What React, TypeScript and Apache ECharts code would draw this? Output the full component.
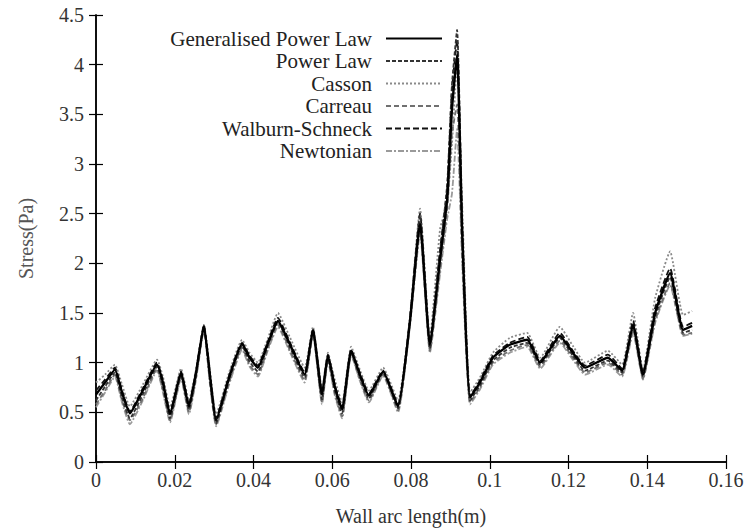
import React, { useEffect, useRef } from "react";
import * as echarts from "echarts";

const xs = [
  0, 0.0023, 0.0048, 0.0066, 0.0086, 0.0119, 0.0155, 0.017, 0.0188, 0.0216,
  0.0236, 0.0254, 0.0274, 0.029, 0.0305, 0.0338, 0.0371, 0.039, 0.0411, 0.0437,
  0.0462, 0.0493, 0.053, 0.0551, 0.0574, 0.0589, 0.0607, 0.0625, 0.0648, 0.067,
  0.0693, 0.0729, 0.0767, 0.0797, 0.0823, 0.0848, 0.0874, 0.0892, 0.0904, 0.0917,
  0.093, 0.095, 0.0975, 0.1008, 0.1051, 0.1095, 0.1128, 0.1178, 0.1211, 0.1242,
  0.13, 0.1336, 0.1364, 0.1389, 0.142, 0.1458, 0.1491, 0.1514,
];

const generalisedPowerLaw = [
  0.68, 0.8, 0.93, 0.7, 0.49, 0.72, 0.98, 0.8, 0.48, 0.9,
  0.56, 0.9, 1.37, 0.85, 0.42, 0.85, 1.19, 1.05, 0.95, 1.2,
  1.42, 1.18, 0.88, 1.33, 0.68, 1.07, 0.75, 0.53, 1.12, 0.88,
  0.67, 0.91, 0.56, 1.4, 2.4, 1.18, 2.05, 2.65, 3.55, 4.1,
  2.3, 0.65, 0.8, 1.05, 1.18, 1.23, 1.0, 1.27, 1.1, 0.95,
  1.05, 0.92, 1.38, 0.88, 1.5, 1.9, 1.33, 1.37,
];

const powerLaw = [
  0.62, 0.76, 0.9, 0.65, 0.44, 0.68, 0.96, 0.76, 0.44, 0.88,
  0.53, 0.87, 1.36, 0.81, 0.39, 0.83, 1.17, 1.01, 0.91, 1.18,
  1.41, 1.15, 0.85, 1.32, 0.63, 1.05, 0.71, 0.49, 1.11, 0.86,
  0.64, 0.9, 0.54, 1.43, 2.48, 1.14, 2.12, 2.8, 3.8, 4.35,
  2.45, 0.62, 0.77, 1.02, 1.15, 1.2, 0.98, 1.25, 1.07, 0.92,
  1.02, 0.9, 1.36, 0.86, 1.46, 1.86, 1.3, 1.33,
];

const casson = [
  0.8, 0.88, 0.98, 0.78, 0.56, 0.78, 1.03, 0.86, 0.55, 0.94,
  0.62, 0.93, 1.38, 0.9, 0.48, 0.9, 1.23, 1.1, 1.0, 1.25,
  1.5, 1.25, 0.95, 1.36, 0.74, 1.1, 0.82, 0.6, 1.16, 0.93,
  0.72, 0.95, 0.62, 1.45, 2.55, 1.25, 2.35, 2.6, 3.2, 4.0,
  2.6, 0.7, 0.85, 1.1, 1.25, 1.3, 1.05, 1.36, 1.17, 1.0,
  1.12, 0.98, 1.5, 0.92, 1.65, 2.12, 1.48, 1.52,
];

const carreau = [
  0.58, 0.72, 0.88, 0.62, 0.42, 0.64, 0.94, 0.72, 0.42, 0.86,
  0.5, 0.85, 1.34, 0.78, 0.38, 0.8, 1.15, 0.98, 0.88, 1.15,
  1.38, 1.12, 0.82, 1.3, 0.6, 1.03, 0.68, 0.46, 1.09, 0.83,
  0.62, 0.88, 0.52, 1.38, 2.35, 1.12, 1.95, 2.55, 3.3, 3.6,
  2.1, 0.6, 0.75, 1.0, 1.12, 1.18, 0.96, 1.22, 1.05, 0.9,
  1.0, 0.88, 1.33, 0.84, 1.42, 1.8, 1.28, 1.3,
];

const walburnSchneck = [
  0.72, 0.83, 0.95, 0.72, 0.51, 0.74, 1.0, 0.82, 0.5, 0.91,
  0.58, 0.91, 1.38, 0.87, 0.44, 0.87, 1.2, 1.07, 0.97, 1.22,
  1.45, 1.2, 0.9, 1.34, 0.7, 1.08, 0.77, 0.55, 1.13, 0.9,
  0.69, 0.92, 0.58, 1.42, 2.5, 1.2, 2.15, 2.75, 3.75, 4.25,
  2.35, 0.66, 0.82, 1.07, 1.2, 1.26, 1.02, 1.3, 1.12, 0.97,
  1.08, 0.94, 1.42, 0.9, 1.55, 1.95, 1.36, 1.4,
];

const newtonian = [
  0.55, 0.7, 0.86, 0.6, 0.38, 0.62, 0.92, 0.7, 0.4, 0.84,
  0.48, 0.83, 1.33, 0.76, 0.36, 0.78, 1.13, 0.96, 0.86, 1.13,
  1.36, 1.1, 0.8, 1.29, 0.58, 1.02, 0.66, 0.44, 1.08, 0.82,
  0.6, 0.87, 0.5, 1.36, 2.3, 1.1, 1.9, 2.45, 2.7, 3.35,
  2.0, 0.58, 0.73, 0.98, 1.1, 1.16, 0.94, 1.2, 1.03, 0.88,
  0.98, 0.86, 1.3, 0.83, 1.4, 1.78, 1.27, 1.29,
];

const seriesNames = [
  "Generalised Power Law",
  "Power Law",
  "Casson",
  "Carreau",
  "Walburn-Schneck",
  "Newtonian",
];

const FONT = "Liberation Serif";

export default function App() {
  const ref = useRef<HTMLDivElement>(null);
  useEffect(() => {
    if (!ref.current) return;
    const chart = echarts.init(ref.current, null, { renderer: "svg" });
    const pair = (ys: number[]) => xs.map((x, i) => [x, ys[i]]);
    const styles: any[] = [
      { data: generalisedPowerLaw, color: "#000000", type: "solid", width: 2.4, z: 10 },
      { data: powerLaw, color: "#333333", type: [4, 2], width: 1.8, z: 6 },
      { data: casson, color: "#8a8a8a", type: [2, 2], width: 1.8, z: 3 },
      { data: carreau, color: "#707070", type: [5, 3], width: 1.8, z: 4 },
      { data: walburnSchneck, color: "#111111", type: [6, 3], width: 1.8, z: 5 },
      { data: newtonian, color: "#9a9a9a", type: [6, 2, 2, 2], width: 1.8, z: 2 },
    ];
    const tickLabel = { fontFamily: FONT, fontSize: 20, color: "#333" };
    const axisLine = { show: true, lineStyle: { color: "#000", width: 1.5 } };
    const axisTick = { show: true, inside: true, length: 7, lineStyle: { color: "#000", width: 1.2 } };
    chart.setOption({
      animation: false,
      backgroundColor: "#fff",
      grid: { left: 96, right: 25, top: 15, bottom: 68 },
      legend: {
        orient: "vertical",
        right: 303,
        top: 23,
        align: "right",
        itemWidth: 56,
        itemHeight: 14,
        itemGap: 1.5,
        data: seriesNames,
        itemStyle: { opacity: 0 },
        textStyle: { fontFamily: FONT, fontSize: 21, color: "#222", padding: [0, 9, 0, 0] },
      },
      xAxis: [
        {
          type: "value",
          min: 0,
          max: 0.16,
          interval: 0.02,
          name: "Wall arc length(m)",
          nameLocation: "middle",
          nameGap: 44,
          nameTextStyle: { fontFamily: FONT, fontSize: 20, color: "#333" },
          axisLine,
          axisTick,
          splitLine: { show: false },
          axisLabel: { ...tickLabel, margin: 8 },
        },
        {
          type: "value",
          position: "top",
          min: 0,
          max: 0.16,
          interval: 0.02,
          axisLine,
          axisTick,
          splitLine: { show: false },
          axisLabel: { show: false },
        },
      ],
      yAxis: [
        {
          type: "value",
          min: 0,
          max: 4.5,
          interval: 0.5,
          name: "Stress(Pa)",
          nameLocation: "middle",
          nameGap: 60,
          nameTextStyle: { fontFamily: FONT, fontSize: 20, color: "#555" },
          axisLine,
          axisTick,
          splitLine: { show: false },
          axisLabel: { ...tickLabel, margin: 12 },
        },
        {
          type: "value",
          position: "right",
          min: 0,
          max: 4.5,
          interval: 0.5,
          axisLine,
          axisTick,
          splitLine: { show: false },
          axisLabel: { show: false },
        },
      ],
      series: styles.map((s, i) => ({
        name: seriesNames[i],
        type: "line",
        xAxisIndex: 0,
        yAxisIndex: 0,
        data: pair(s.data),
        showSymbol: false,
        symbol: "none",
        smooth: 0.15,
        z: s.z,
        itemStyle: { color: s.color },
        lineStyle: { color: s.color, type: s.type, width: s.width },
      })),
    });
    return () => chart.dispose();
  }, []);
  return (
    <div
      ref={ref}
      style={{ width: 751, height: 531, position: "fixed", left: 0, top: 0 }}
    />
  );
}
